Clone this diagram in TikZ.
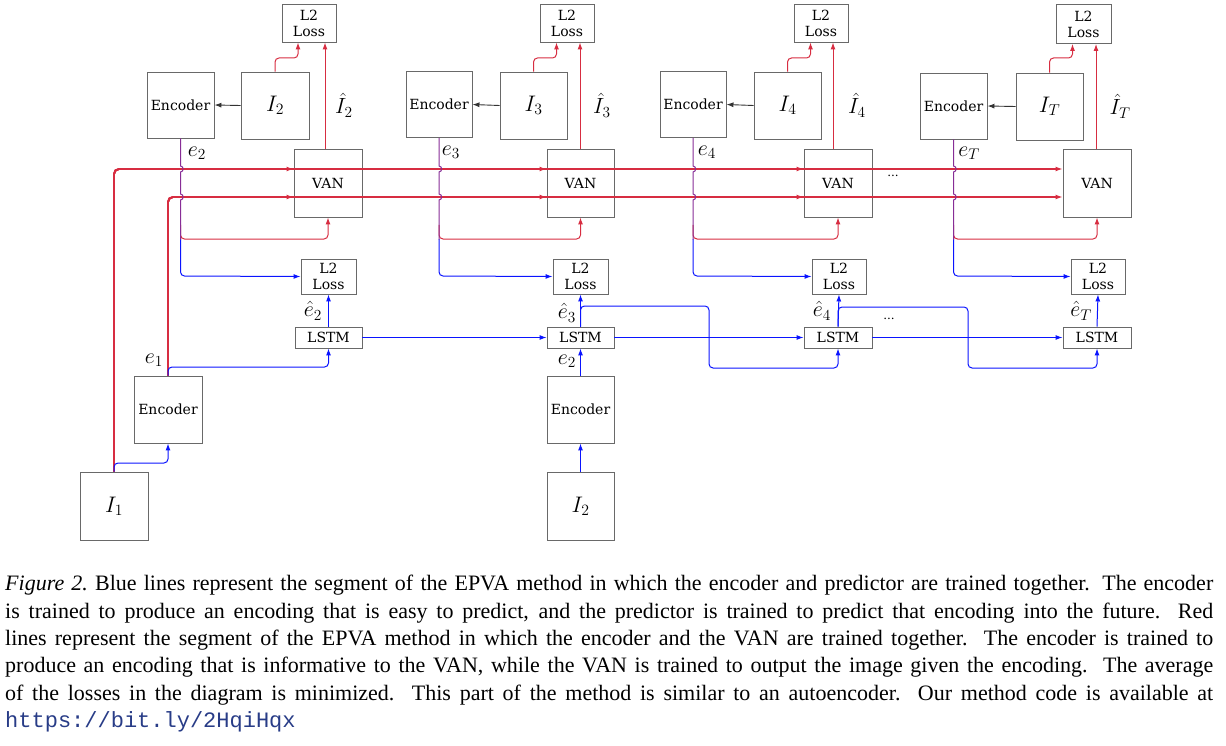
\RequirePackage{fix-cm}
\documentclass[tikz,border=0pt]{standalone}
\usepackage{fontspec}
\setmainfont{Liberation Serif}
\newfontfamily\dfont{DejaVu Serif}
\newfontfamily\capmono{Liberation Mono}
\usetikzlibrary{arrows.meta}
\definecolor{boxgray}{RGB}{105,105,105}
\definecolor{vred}{RGB}{215,45,65}
\definecolor{vblue}{RGB}{10,20,255}
\definecolor{vpurple}{RGB}{135,45,150}
\definecolor{urlblue}{RGB}{40,60,135}
\tikzset{
  box/.style={draw=boxgray, line width=0.9pt, inner sep=0pt, font=\dfont\fontsize{14}{16}\selectfont, align=center},
  imbox/.style={box, font=\fontsize{22.5}{26}\selectfont},
  tip/.style={-{Latex[length=7pt,width=5pt]}},
  rl/.style={draw=vred, line width=1pt, rounded corners=4pt, tip},
  rlt/.style={draw=vred, line width=1.8pt, rounded corners=5pt, tip},
  bl/.style={draw=vblue, line width=1pt, rounded corners=4pt, tip},
  kl/.style={draw=black!80, line width=0.9pt, tip},
  lab/.style={inner sep=0pt, font=\fontsize{22}{26}\selectfont},
  dots/.style={inner sep=0pt, font=\dfont\fontsize{12}{14}\selectfont}
}
\begin{document}
\begin{tikzpicture}[x=1pt,y=-1pt]
\useasboundingbox (0,0) rectangle (1226,746);
% top row
\node[box, minimum width=54pt, minimum height=38pt] (lossT1) at (309,23) {L2\\[0pt]Loss};
\node[box, minimum width=54pt, minimum height=38pt] (lossT2) at (567,23) {L2\\[0pt]Loss};
\node[box, minimum width=54pt, minimum height=38pt] (lossT3) at (821,23) {L2\\[0pt]Loss};
\node[box, minimum width=55pt, minimum height=39pt] (lossT4) at (1083.5,24) {L2\\[0pt]Loss};
\node[box, minimum width=67pt, minimum height=66pt] (encT1) at (180.5,105) {Encoder};
\node[box, minimum width=66pt, minimum height=66pt] (encT2) at (439,104.5) {Encoder};
\node[box, minimum width=66pt, minimum height=66pt] (encT3) at (693,104.5) {Encoder};
\node[box, minimum width=67pt, minimum height=66pt] (encT4) at (953.5,106) {Encoder};
\node[imbox, minimum width=68pt, minimum height=67pt] (imT1) at (275,105.5) {$I_2$};
\node[imbox, minimum width=67pt, minimum height=67pt] (imT2) at (533.5,105.5) {$I_3$};
\node[imbox, minimum width=67pt, minimum height=67pt] (imT3) at (787.5,105.5) {$I_4$};
\node[imbox, minimum width=67pt, minimum height=67pt] (imT4) at (1049.5,106.5) {$I_T$};
\node[box, minimum width=68pt, minimum height=68pt] (van1) at (328,183) {VAN};
\node[box, minimum width=67pt, minimum height=68pt] (van2) at (580.5,183) {VAN};
\node[box, minimum width=68pt, minimum height=68pt] (van3) at (838,183) {VAN};
\node[box, minimum width=68pt, minimum height=68pt] (van4) at (1097,183) {VAN};
% lower row
\node[box, minimum width=55pt, minimum height=35pt] (lossB1) at (328.5,276.5) {L2\\[0pt]Loss};
\node[box, minimum width=55pt, minimum height=35pt] (lossB2) at (580.5,276.5) {L2\\[0pt]Loss};
\node[box, minimum width=54pt, minimum height=35pt] (lossB3) at (839,276.5) {L2\\[0pt]Loss};
\node[box, minimum width=54pt, minimum height=35pt] (lossB4) at (1098,276.5) {L2\\[0pt]Loss};
\node[box, minimum width=67pt, minimum height=21pt] (lstm1) at (328.5,337.5) {LSTM};
\node[box, minimum width=67pt, minimum height=21pt] (lstm2) at (580.5,337.5) {LSTM};
\node[box, minimum width=68pt, minimum height=21pt] (lstm3) at (838,337.5) {LSTM};
\node[box, minimum width=68pt, minimum height=21pt] (lstm4) at (1097,337.5) {LSTM};
\node[box, minimum width=68pt, minimum height=67pt] (encB1) at (168,409.5) {Encoder};
\node[box, minimum width=67pt, minimum height=67pt] (encB2) at (580.5,409.5) {Encoder};
\node[imbox, minimum width=68pt, minimum height=68pt] (imB1) at (114,506) {$I_1$};
\node[imbox, minimum width=67pt, minimum height=68pt] (imB2) at (580.5,506) {$I_2$};
% labels
\node[lab] (lIh2) at (344,105) {$\hat{I}_2$};
\node[lab] (lIh3) at (602,105) {$\hat{I}_3$};
\node[lab] (lIh4) at (857,105) {$\hat{I}_4$};
\node[lab] (lIhT) at (1120,106) {$\hat{I}_T$};
\node[lab] (le2) at (197,153) {$e_2$};
\node[lab] (le3) at (451,152) {$e_3$};
\node[lab] (le4) at (707,152) {$e_4$};
\node[lab] (leT) at (969,153) {$e_T$};
\node[lab] (leh2) at (313,311) {$\hat{e}_2$};
\node[lab] (leh3) at (567,313) {$\hat{e}_3$};
\node[lab] (leh4) at (822,311) {$\hat{e}_4$};
\node[lab] (lehT) at (1081,311) {$\hat{e}_T$};
\node[lab] (le1) at (154,360) {$e_1$};
\node[lab] (le2b) at (567,361) {$e_2$};
\node[dots] (dA) at (893,176) {...};
\node[dots] (dB) at (889,319) {...};
% long red lines (through VANs)
\foreach \c in {1,...,4}{
  \draw[rlt] (imB1.north) -- (imB1.north |- 0,169) -- (van\c.west |- 0,169);
  \draw[rlt] (encB1.north) -- (encB1.north |- 0,197) -- (van\c.west |- 0,197);
}
% per-column encoder outputs
\foreach \c/\X in {1/180.5,2/439,3/693,4/953.5}{
  \draw[rl] (\X,225) -- (\X,239) -- (van\c.south |- 0,239) -- (van\c.south);
  \draw[bl] (\X,239) -- (\X,276) -- (lossB\c.west);
  \draw[draw=vpurple, line width=1pt] (encT\c.south) -- (\X,166)
     .. controls (\X+3.5,166) and (\X+3.5,172) .. (\X,172) -- (\X,194)
     .. controls (\X+3.5,194) and (\X+3.5,200) .. (\X,200) -- (\X,239.5);
  \draw[kl] (imT\c.west) -- (encT\c.east);
  \draw[rl] (imT\c.north) -- (imT\c.north |- 0,58) -- ([xshift=23pt]imT\c.north |- 0,58) -- ([xshift=23pt]imT\c.north |- lossT\c.south);
}
\draw[rl] (van1.north -| 325,0) -- (lossT1.south -| 325,0);
\draw[rl] (van2.north -| 580,0) -- (lossT2.south -| 580,0);
\draw[rl] (van3.north -| 833,0) -- (lossT3.south -| 833,0);
\draw[rl] (van4.north -| 1096,0) -- (lossT4.south -| 1096,0);
% blue predictor path
\draw[bl] (imB1.north) -- (imB1.north |- 0,463) -- (encB1.south |- 0,463) -- (encB1.south);
\draw[bl] (encB1.north) -- (encB1.north |- 0,367) -- (lstm1.south |- 0,367) -- (lstm1.south);
\draw[bl] (imB2.north) -- (encB2.south);
\draw[bl] (encB2.north) -- (lstm2.south);
\foreach \c in {1,...,4}{ \draw[bl] (lstm\c.north) -- (lossB\c.south); }
\draw[bl] (lstm1.east) -- (lstm2.west);
\draw[bl] (lstm2.east) -- (lstm3.west);
\draw[bl] (lstm3.east) -- (lstm4.west);
\draw[bl] (lstm2.north) -- (lstm2.north |- 0,306) -- (709,306) -- (709,368) -- (lstm3.south |- 0,368) -- (lstm3.south);
\draw[bl] (lstm3.north) -- (lstm3.north |- 0,307) -- (968,307) -- (968,368) -- (lstm4.south |- 0,368) -- (lstm4.south);
% caption
\node[anchor=north west, inner sep=0pt, text width=1208pt, align=justify,
      font=\fontsize{22}{27.4}\selectfont] (cap) at (5,575) {%
\textit{Figure 2.}\ Blue lines represent the segment of the EPVA method in which the encoder and predictor are trained together. The encoder\linebreak
is trained to produce an encoding that is easy to predict, and the predictor is trained to predict that encoding into the future.\ \ Red\linebreak
lines represent the segment of the EPVA method in which the encoder and the VAN are trained together.\ \ The encoder is trained to\linebreak
produce an encoding that is informative to the VAN, while the VAN is trained to output the image given the encoding.\ \ The average\linebreak
of the losses in the diagram is minimized.\ \ This part of the method is similar to an autoencoder.\ \ Our method code is available at\linebreak
{\capmono\color{urlblue}https://bit.ly/2HqiHqx}};
\end{tikzpicture}
\end{document}
